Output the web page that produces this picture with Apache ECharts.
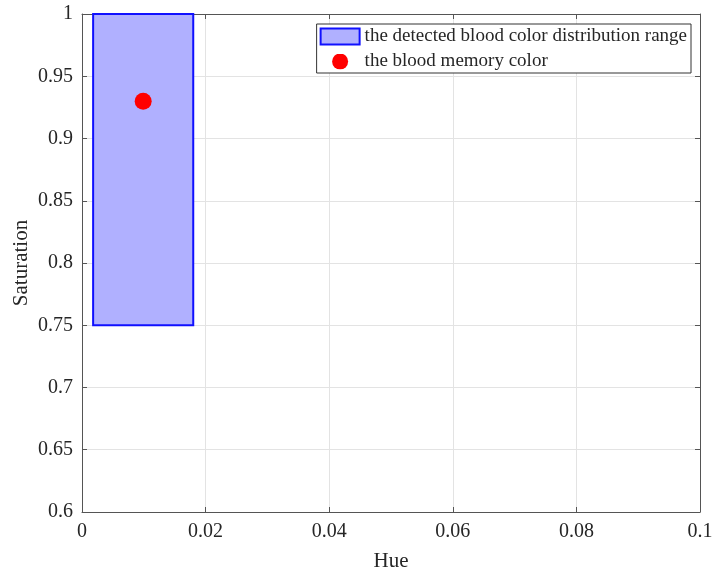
<!DOCTYPE html>
<html>
<head>
<meta charset="utf-8">
<script src="https://cdn.jsdelivr.net/npm/echarts@6/dist/echarts.min.js"></script>
<style>
  html, body { margin: 0; padding: 0; background: #fff; }
  #chart { width: 712px; height: 574px; }
</style>
</head>
<body>
<div id="chart"></div>
<script>
// detected blood color range (hue, saturation bounds)
const rangeHue = [0.0018, 0.018];
const rangeSat = [0.75, 1.0];
// blood memory color point
const memoryPoint = [0.0099, 0.93];

const xTicks = { min: 0, max: 0.1, interval: 0.02 };
const yTicks = { min: 0.6, max: 1, interval: 0.05 };

const FONT = "Liberation Serif";
const AXIS_COLOR = "#555";

const chart = echarts.init(document.getElementById("chart"));

const baseAxis = {
  type: "value",
  axisLine: { show: true, onZero: false, lineStyle: { color: AXIS_COLOR, width: 1 } },
  axisTick: { show: true, inside: true, length: 5, lineStyle: { color: AXIS_COLOR } },
  axisLabel: { color: "#262626", fontFamily: FONT, fontSize: 20 },
  splitLine: { show: false },
};

const option = {
  animation: false,
  grid: {
    left: 82,
    right: 12,
    top: 14,
    bottom: 62,
    containLabel: false,
    outerBoundsMode: "none",
  },
  legend: {
    orient: "vertical",
    right: 21,
    top: 24,
    padding: [3, 4, 2, 3],
    itemGap: 6,
    itemWidth: 39,
    itemHeight: 16,
    backgroundColor: "#fff",
    borderColor: "#333",
    borderWidth: 1,
    borderRadius: 0,
    textStyle: { fontFamily: FONT, fontSize: 19, color: "#262626" },
    data: [
      {
        name: "the detected blood color distribution range",
        icon: "rect",
        itemStyle: { color: "#b0b0ff", borderColor: "#1010ff", borderWidth: 2 },
      },
      {
        name: "the blood memory color",
        icon: "image://data:image/svg+xml;utf8," + encodeURIComponent(
          '<svg xmlns="http://www.w3.org/2000/svg" width="39" height="18"><circle cx="19.5" cy="9" r="9" fill="#ff0000"/></svg>'
        ),
      },
    ],
  },
  xAxis: [
    {
      ...baseAxis,
      min: xTicks.min,
      max: xTicks.max,
      interval: xTicks.interval,
      name: "Hue",
      nameLocation: "middle",
      nameGap: 39,
      nameMoveOverlap: false,
      nameTextStyle: { fontFamily: FONT, fontSize: 21, color: "#262626" },
      axisLabel: { ...baseAxis.axisLabel, margin: 10 },
      splitLine: { show: true, lineStyle: { color: "#e3e3e3", width: 1 } },
    },
    {
      ...baseAxis,
      position: "top",
      min: xTicks.min,
      max: xTicks.max,
      interval: xTicks.interval,
      axisLabel: { show: false },
    },
  ],
  yAxis: [
    {
      ...baseAxis,
      min: yTicks.min,
      max: yTicks.max,
      interval: yTicks.interval,
      name: "Saturation",
      nameLocation: "middle",
      nameGap: 50,
      nameMoveOverlap: false,
      nameTextStyle: { fontFamily: FONT, fontSize: 21, color: "#262626" },
      axisLabel: { ...baseAxis.axisLabel, margin: 9 },
      splitLine: { show: true, lineStyle: { color: "#e3e3e3", width: 1 } },
    },
    {
      ...baseAxis,
      position: "right",
      min: yTicks.min,
      max: yTicks.max,
      interval: yTicks.interval,
      axisLabel: { show: false },
    },
  ],
  series: [
    {
      name: "the detected blood color distribution range",
      type: "custom",
      xAxisIndex: 0,
      yAxisIndex: 0,
      itemStyle: { color: "#b0b0ff", borderColor: "#1010ff", borderWidth: 2 },
      data: [[rangeHue[0], rangeSat[0], rangeHue[1], rangeSat[1]]],
      renderItem: (params, api) => {
        const p0 = api.coord([api.value(0), api.value(1)]);
        const p1 = api.coord([api.value(2), api.value(3)]);
        return {
          type: "rect",
          shape: {
            x: p0[0],
            y: p1[1],
            width: p1[0] - p0[0],
            height: p0[1] - p1[1],
          },
          style: { fill: "#b0b0ff", stroke: "#1010ff", lineWidth: 2 },
        };
      },
      z: 2,
    },
    {
      name: "the blood memory color",
      type: "scatter",
      xAxisIndex: 0,
      yAxisIndex: 0,
      symbol: "circle",
      symbolSize: 17,
      itemStyle: { color: "#ff0000", opacity: 1 },
      data: [memoryPoint],
      z: 3,
    },
  ],
};

chart.setOption(option);
</script>
</body>
</html>
